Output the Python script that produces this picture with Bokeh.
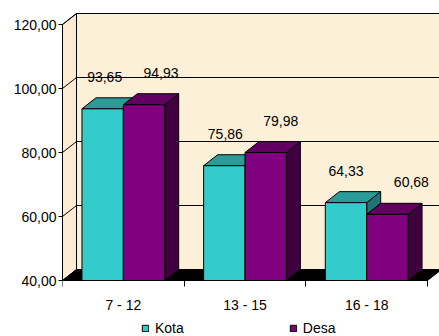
from bokeh.plotting import figure
from bokeh.models import Range1d, FixedTicker, Legend, LegendItem, ColumnDataSource
from bokeh.core.properties import value
from bokeh.embed import file_html
from bokeh.resources import INLINE

# --- data ---
categories = ["7 - 12", "13 - 15", "16 - 18"]
kota = [93.65, 75.86, 64.33]
desa = [94.93, 79.98, 60.68]
y_ticks = [40, 60, 80, 100, 120]

# --- styling / geometry ---
FONT = "Liberation Sans"
FONT_SIZE = "14px"
Y0, Y1 = 40, 120
PX_PER_X = 121.67          # pixels per category slot
PX_PER_Y = 3.2             # pixels per value unit
DEPTH_PX_X, DEPTH_PX_Y = 14, 11
DX = DEPTH_PX_X / PX_PER_X
DY = DEPTH_PX_Y / PX_PER_Y
FRAME_W = 377
BELOW_PX, ABOVE_PX = 56, 270   # frame pixels below / above the base line
X_END = FRAME_W / PX_PER_X
Y_START = Y0 - BELOW_PX / PX_PER_Y
Y_END = Y0 + ABOVE_PX / PX_PER_Y

CREAM = "#FCF0D9"
CREAM_SIDE = "#FBEBD0"
KOTA_COLORS = ("#33CCCC", "#2A9B99", "#1F7372")   # front, top, side
DESA_COLORS = ("#800080", "#610061", "#400040")

BAR_W = 0.34
KOTA_X0 = 0.16

p = figure(width=439, height=336, output_backend="svg", toolbar_location=None,
           x_range=Range1d(0, X_END), y_range=Range1d(Y_START, Y_END),
           min_border_left=62, min_border_right=0, min_border_top=10,
           min_border_bottom=0)
p.outline_line_color = None
p.xgrid.visible = False
p.ygrid.visible = False
p.background_fill_color = "white"

# back wall and side wall
p.patch([DX, DX, X_END + 1, X_END + 1], [Y0 + DY, Y1 + DY, Y1 + DY, Y0 + DY],
        fill_color=CREAM, line_color=None)
p.patch([0, 0, DX, DX], [Y0, Y1, Y1 + DY, Y0 + DY],
        fill_color=CREAM_SIDE, line_color="black", line_width=1)

# gridlines on both walls
grid = [t for t in y_ticks if t > Y0]
p.segment(x0=[DX] * len(grid), y0=[t + DY for t in grid],
          x1=[X_END + 1] * len(grid), y1=[t + DY for t in grid],
          line_color="black", line_width=1)
p.segment(x0=[0] * len(grid), y0=grid, x1=[DX] * len(grid),
          y1=[t + DY for t in grid], line_color="black", line_width=1)

# floor
n = len(categories)
p.patch([0, n, n + DX, DX], [Y0, Y0, Y0 + DY, Y0 + DY],
        fill_color="black", line_color="black")


def faces(x0s, vals):
    fronts = dict(left=[], right=[], top=[], bottom=[])
    tops_x, tops_y, sides_x, sides_y = [], [], [], []
    for x0, v in zip(x0s, vals):
        x1 = x0 + BAR_W
        fronts["left"].append(x0)
        fronts["right"].append(x1)
        fronts["top"].append(v)
        fronts["bottom"].append(Y0)
        tops_x.append([x0, x1, x1 + DX, x0 + DX])
        tops_y.append([v, v, v + DY, v + DY])
        sides_x.append([x1, x1, x1 + DX, x1 + DX])
        sides_y.append([Y0, v, v + DY, Y0 + DY])
    return fronts, (tops_x, tops_y), (sides_x, sides_y)


kota_x0 = [i + KOTA_X0 for i in range(n)]
desa_x0 = [i + KOTA_X0 + BAR_W for i in range(n)]

legend_items = []
for name, x0s, vals, cols in (("Kota", kota_x0, kota, KOTA_COLORS),
                               ("Desa", desa_x0, desa, DESA_COLORS)):
    fr, (tx, ty), (sx, sy) = faces(x0s, vals)
    p.patches(sx, sy, fill_color=cols[2], line_color="black", line_width=1)
    p.patches(tx, ty, fill_color=cols[1], line_color="black", line_width=1)
    r = p.quad(source=ColumnDataSource(fr), left="left", right="right",
               top="top", bottom="bottom", fill_color=cols[0],
               line_color="black", line_width=1)
    legend_items.append(LegendItem(label=name, renderers=[r]))

# value labels
label_dx_kota = [2, 1, 0]
label_dx_desa = [17, 15, 24]
lab_x = [x + BAR_W / 2 for x in kota_x0] + [x + BAR_W / 2 for x in desa_x0]
lab_y = kota + desa
lab_t = [f"{v:.2f}".replace(".", ",") for v in lab_y]
p.text(x=lab_x, y=lab_y, text=lab_t, x_offset=label_dx_kota + label_dx_desa,
       y_offset=-32, text_align="center", text_baseline="middle",
       text_font=value(FONT), text_font_size=FONT_SIZE, text_color="black")

# axes
ya = p.yaxis[0]
ya.ticker = FixedTicker(ticks=y_ticks, minor_ticks=[])
ya.major_label_overrides = {t: f"{t:.2f}".replace(".", ",") for t in y_ticks}
ya.bounds = (Y0, Y1)
ya.major_tick_out = 4
ya.major_tick_in = 0
ya.major_label_standoff = 2
ya.axis_line_color = "black"
ya.major_tick_line_color = "black"
ya.major_label_text_font = FONT
ya.major_label_text_font_size = FONT_SIZE
ya.major_label_text_color = "black"

xa = p.xaxis[0]
centers = [i + 0.5 for i in range(n)]
xa.fixed_location = Y0
xa.ticker = FixedTicker(ticks=centers, minor_ticks=list(range(n + 1)))
xa.major_label_overrides = {c: lab for c, lab in zip(centers, categories)}
xa.bounds = (0, n)
xa.major_tick_out = 0
xa.major_tick_in = 0
xa.minor_tick_out = 6
xa.minor_tick_in = 0
xa.minor_tick_line_color = "black"
xa.axis_line_color = "black"
xa.major_label_standoff = 10
xa.major_label_text_font = FONT
xa.major_label_text_font_size = FONT_SIZE
xa.major_label_text_color = "black"

legend = Legend(items=legend_items, orientation="horizontal",
                location=(79, 0), glyph_width=8, glyph_height=8,
                label_standoff=6, spacing=105, padding=0, margin=0,
                label_height=14, border_line_color=None,
                background_fill_alpha=0, label_text_font=FONT,
                label_text_font_size=FONT_SIZE, label_text_color="black")
p.add_layout(legend)

open("out.html", "w").write(file_html(p, INLINE))
